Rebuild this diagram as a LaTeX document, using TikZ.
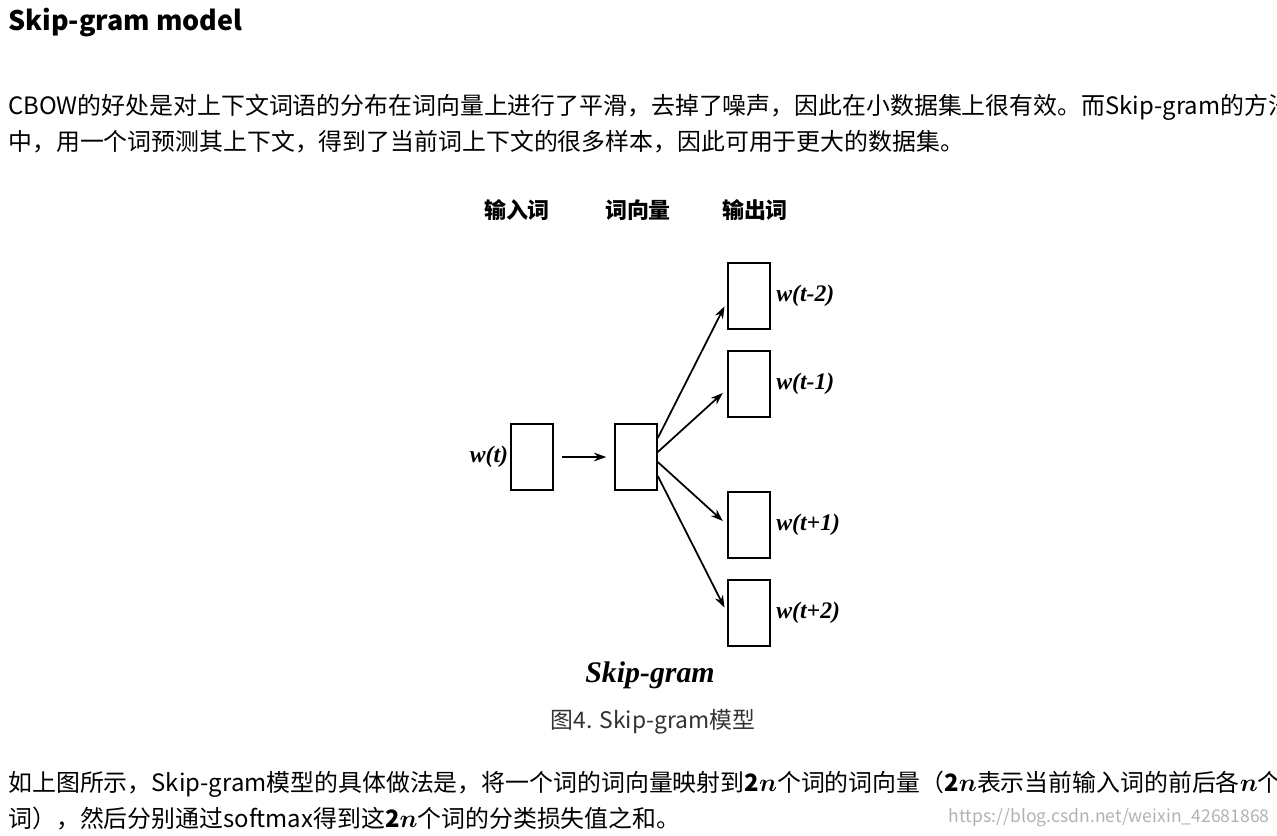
\documentclass[tikz,border=0pt]{standalone}
\usepackage{amsmath}
\usepackage{fontspec}
\setmainfont{Noto Sans CJK SC}
\newfontfamily\figfont{Liberation Serif}
\usetikzlibrary{positioning,arrows.meta}
\begin{document}
\begin{tikzpicture}[%
		x=0.02cm,
		y=-0.02cm,
		>={Stealth[length=7pt,width=5pt]},
		wordbox/.style={%
			draw,
			line width=0.9pt,
			minimum width=0.84cm,
			minimum height=1.32cm,
			inner sep=0pt
		},
		wordlab/.style={%
			font=\figfont\bfseries\itshape\fontsize{13.5}{14}\selectfont,
			inner sep=1pt
		},
		link/.style={%
			->,
			line width=1pt,
			shorten >=0.12cm
		},
		body/.style={%
			anchor=base west,
			inner sep=0pt,
			font=\fontsize{13.6}{15}\selectfont
		},
		colhead/.style={%
			font=\bfseries\fontsize{12.5}{14}\selectfont
		}
		]
		\useasboundingbox (0,0) rectangle (1277,835);
		\clip (0,0) rectangle (1277,835);
		% page text
		\node[body,font=\bfseries\fontsize{15.3}{18}\selectfont] (title) at (8,31) {Skip-gram model};
		\node[body] (p1) at (8,114) {CBOW的好处是对上下文词语的分布在词向量上进行了平滑，去掉了噪声，因此在小数据集上很有效。而Skip-gram的方法};
		\node[body] (p2) at (8,150) {中，用一个词预测其上下文，得到了当前词上下文的很多样本，因此可用于更大的数据集。};
		% column heads
		\node[colhead] (h1) at (517,210) {输入词};
		\node[colhead] (h2) at (638,210) {词向量};
		\node[colhead] (h3) at (755,210) {输出词};
		% boxes
		\node[wordbox] (in)  at (532,457) {};
		\node[wordbox] (hid) at (636,457) {};
		\node[wordbox] (o1)  at (749,296) {};
		\node[wordbox] (o2)  at (749,384) {};
		\node[wordbox] (o3)  at (749,525) {};
		\node[wordbox] (o4)  at (749,613) {};
		\node[wordlab,left=0pt of in]  (lin) {w(t)};
		\node[wordlab,right=2pt of o1] (l1)  {w(t-2)};
		\node[wordlab,right=2pt of o2] (l2)  {w(t-1)};
		\node[wordlab,right=2pt of o3] (l3)  {w(t+1)};
		\node[wordlab,right=2pt of o4] (l4)  {w(t+2)};
		% arrows
		\draw[link,shorten <=0.16cm,shorten >=0.16cm] (in) -- (hid);
		\draw[link] ([yshift=0.38cm]hid.east) -- ([yshift=-0.1cm]o1.west);
		\draw[link] ([yshift=0.1cm]hid.east) -- ([yshift=-0.1cm]o2.west);
		\draw[link] ([yshift=-0.1cm]hid.east) -- (o3.west);
		\draw[link] ([yshift=-0.38cm]hid.east) -- (o4.west);
		\node[font=\figfont\bfseries\itshape\fontsize{17}{18}\selectfont] (sg) at (650,675) {Skip-gram};
		\node[font=\fontsize{13}{14}\selectfont,text=black!80] (cap) at (653,722) {图4. Skip-gram模型};
		% bottom text
		\node[body] (p3) at (8,791) {如上图所示，Skip-gram模型的具体做法是，将一个词的词向量映射到$\mathbf{2}\boldsymbol{n}$个词的词向量（$\mathbf{2}\boldsymbol{n}$表示当前输入词的前后各$\boldsymbol{n}$个};
		\node[body] (p4) at (8,827) {词），然后分别通过softmax得到这$\mathbf{2}\boldsymbol{n}$个词的分类损失值之和。};
		\node[anchor=base east,inner sep=0pt,text=black!30,font=\fontsize{10}{12}\selectfont] (wm) at (1270,822) {https://blog.csdn.net/weixin\_42681868};
\end{tikzpicture}
\end{document}
